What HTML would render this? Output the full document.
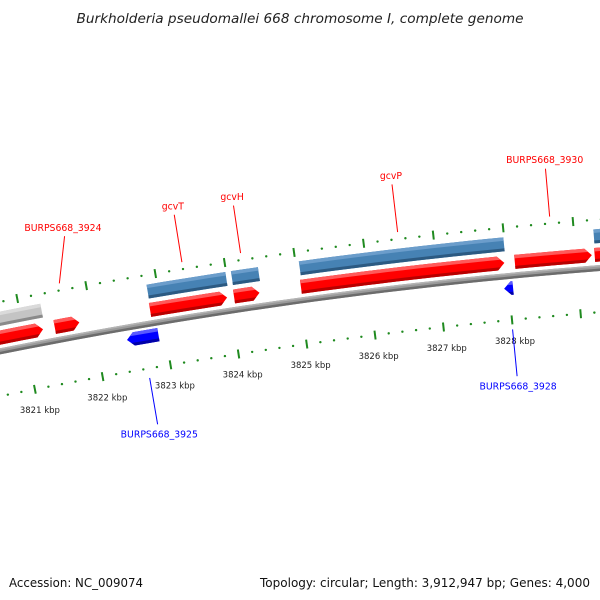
<!DOCTYPE html>
<html><head><meta charset="utf-8"><style>
html,body{margin:0;padding:0;background:#fff;}
svg{display:block;font-family:"DejaVu Sans","Liberation Sans",sans-serif;}
</style></head><body>
<svg id="map" width="600" height="600" viewBox="0 0 600 600" xmlns="http://www.w3.org/2000/svg">
<rect x="0" y="0" width="600" height="600" fill="#fff"/>
<text x="300" y="23" text-anchor="middle" font-size="13" font-style="italic" fill="#222" textLength="447" lengthAdjust="spacingAndGlyphs">Burkholderia pseudomallei 668 chromosome I, complete genome</text>
<text x="9" y="587" font-size="12" fill="#111" textLength="134" lengthAdjust="spacingAndGlyphs">Accession: NC_009074</text>
<text x="590" y="587" text-anchor="end" font-size="12" fill="#111" textLength="330" lengthAdjust="spacingAndGlyphs">Topology: circular; Length: 3,912,947 bp; Genes: 4,000</text>
<defs id="defs"></defs>
<g id="plot"></g>
</svg>
<script>
// ---- data ----
const tickLabels = [3821, 3822, 3823, 3824, 3825, 3826, 3827, 3828];
const fwdStart = [3820.3, 3821.45, 3822.84, 3824.06, 3825.03, 3828.12, 3829.27];
const fwdEnd   = [3821.28, 3821.81, 3823.96, 3824.43, 3827.97, 3829.23, 3830.3];
const fwdNames = ["", "BURPS668_3924", "gcvT", "gcvH", "gcvP", "BURPS668_3930", ""];
const ringStart = [3820.3, 3822.85, 3824.07, 3825.05, 3829.28];
const ringEnd   = [3821.31, 3823.99, 3824.46, 3827.99, 3830.3];
const ringKind  = ["gray", "steel", "steel", "steel", "steel"];
const revStart = [3822.44, 3827.93];
const revEnd   = [3822.90, 3828.06];
const revNames = ["BURPS668_3925", "BURPS668_3928"];
const viewStart = 3820.2, viewEnd = 3830.2, minorStep = 0.2;

// ---- geometry (circular map axis) ----
const CX = 996.7, CY = 5326, PHI0 = -0.19242, DPHI = 0.0137;
const fwdLabelShift = [0, 14, 0, 0, 0, 0, 0];
function polar(r, k) {
  const p = PHI0 + (k - 3821) * DPHI;
  return [CX + r * Math.sin(p), CY - r * Math.cos(p)];
}
const NS = "http://www.w3.org/2000/svg";
const plot = document.getElementById('plot');
const defs = document.getElementById('defs');
function mk(tag, attrs, parent) {
  const e = document.createElementNS(NS, tag);
  for (const k in attrs) e.setAttribute(k, attrs[k]);
  (parent || plot).appendChild(e);
  return e;
}
function arcPts(r, k0, k1) {
  const n = Math.max(2, Math.ceil(Math.abs(k1 - k0) * 4));
  const out = [];
  for (let i = 0; i <= n; i++) out.push(polar(r, k0 + (k1 - k0) * i / n));
  return out;
}
function bandPts(r0, r1, k0, k1) {
  return arcPts(r1, k0, k1).concat(arcPts(r0, k1, k0));
}
function shapePts(r0, r1, k0, k1, dir) {
  const a = 0.1;
  if (dir > 0) {
    const kb = Math.max(k0, k1 - a);
    return arcPts(r1, k0, kb).concat([polar((r0 + r1) / 2, k1)], arcPts(r0, kb, k0));
  } else if (dir < 0) {
    const kb = Math.min(k1, k0 + a);
    return [polar((r0 + r1) / 2, k0)].concat(arcPts(r1, kb, k1), arcPts(r0, k1, kb));
  }
  return bandPts(r0, r1, k0, k1);
}
const ptsStr = p => p.map(q => q[0].toFixed(2) + ',' + q[1].toFixed(2)).join(' ');
const palettes = {
  red:   ['#ff5a5a', '#ff0000', '#b80000'],
  steel: ['#6b9dcb', '#4682b4', '#2c5a82'],
  gray:  ['#dadada', '#c4c4c4', '#8a8a8a'],
  blue:  ['#5a5aff', '#0000ff', '#0000a8']
};
let clipId = 0;
function feature(r0, r1, k0, k1, dir, pal, name) {
  const g = mk('g', {});
  
  
  const id = 'c' + (clipId++);
  const cp = mk('clipPath', { id: id }, defs);
  mk('polygon', { points: ptsStr(shapePts(r0, r1, k0, k1, dir)) }, cp);
  const c = palettes[pal];
  const inner = mk('g', { 'clip-path': 'url(#' + id + ')' }, g);
  mk('polygon', { points: ptsStr(bandPts(r0 - 1, r1 + 1, k0 - 0.2, k1 + 0.2)), fill: c[1] }, inner);
  mk('polygon', { points: ptsStr(bandPts(r1 - 3.5, r1 + 1, k0 - 0.2, k1 + 0.2)), fill: c[0] }, inner);
  mk('polygon', { points: ptsStr(bandPts(r0 - 1, r0 + 3, k0 - 0.2, k1 + 0.2)), fill: c[2] }, inner);
  return g;
}

// backbone
(function () {
  const g = mk('g', {});
  
  
  mk('polygon', { points: ptsStr(bandPts(5070.5, 5076.5, viewStart - 1, viewEnd + 1)), fill: '#9a9a9a' }, g);
  mk('polygon', { points: ptsStr(bandPts(5070.5, 5073, viewStart - 1, viewEnd + 1)), fill: '#6c6c6c' }, g);
  mk('polygon', { points: ptsStr(bandPts(5075, 5076.5, viewStart - 1, viewEnd + 1)), fill: '#b4b4b4' }, g);
})();

// tick rows
function tickRow(rc, name, labels) {
  const g = mk('g', {});
  
  
  const n = Math.round((viewEnd - viewStart) / minorStep);
  for (let i = 0; i <= n; i++) {
    const k = viewStart + i * minorStep;
    const major = Math.abs(k - Math.round(k)) < 1e-6;
    if (major) {
      const a = polar(rc - 4.5, k), b = polar(rc + 4.5, k);
      const l = mk('line', { x1: a[0], y1: a[1], x2: b[0], y2: b[1], stroke: '#1f8a1f', 'stroke-width': 2 }, g);
      
      
    } else {
      const p = polar(rc, k);
      const d = mk('circle', { cx: p[0], cy: p[1], r: 1.2, fill: '#1f8a1f' }, g);
      
      
    }
  }
  if (labels) {
    tickLabels.forEach(k => {
      const p = polar(rc - 21, k);
      const t = mk('text', { x: p[0] + 1, y: p[1] + 3, 'text-anchor': 'middle', 'font-size': 8.5, fill: '#222' }, g);
      t.textContent = k + ' kbp';
      
      
    });
  }
}
tickRow(5122, 'outer-tick-row', false);
tickRow(5029.5, 'inner-tick-row', true);

// second ring (steel / gray)
for (let i = 0; i < ringStart.length; i++) {
  feature(5098.5, 5112.5, ringStart[i], ringEnd[i], 0, ringKind[i], ringKind[i] + '-feature');
}
// forward CDS
for (let i = 0; i < fwdStart.length; i++) {
  feature(5080, 5094, fwdStart[i], fwdEnd[i], 1, 'red', 'forward-gene');
}
// reverse CDS
for (let i = 0; i < revStart.length; i++) {
  feature(5054.5, 5068, revStart[i], revEnd[i], -1, 'blue', 'reverse-gene');
}

// labels
function geneLabel(k, r0, r1, rt, text, color, dx) {
  const a = polar(r0, k), b = polar(r1, k), t = polar(rt, k);
  const l = mk('line', { x1: a[0], y1: a[1], x2: b[0] + dx, y2: b[1], stroke: color, 'stroke-width': 1 });
  
  
  const tx = mk('text', { x: t[0] + dx, y: t[1] + 3.5, 'text-anchor': 'middle', 'font-size': 9.3, fill: color });
  tx.textContent = text;
  
  
}
for (let i = 0; i < fwdNames.length; i++) {
  if (fwdNames[i]) geneLabel((fwdStart[i] + fwdEnd[i]) / 2, 5129, 5177, 5186, fwdNames[i], '#ff0000', fwdLabelShift[i]);
}
for (let i = 0; i < revNames.length; i++) {
  geneLabel((revStart[i] + revEnd[i]) / 2, 5020, 4973, 4963, revNames[i], '#0000ff', 0);
}
</script>
</body></html>
